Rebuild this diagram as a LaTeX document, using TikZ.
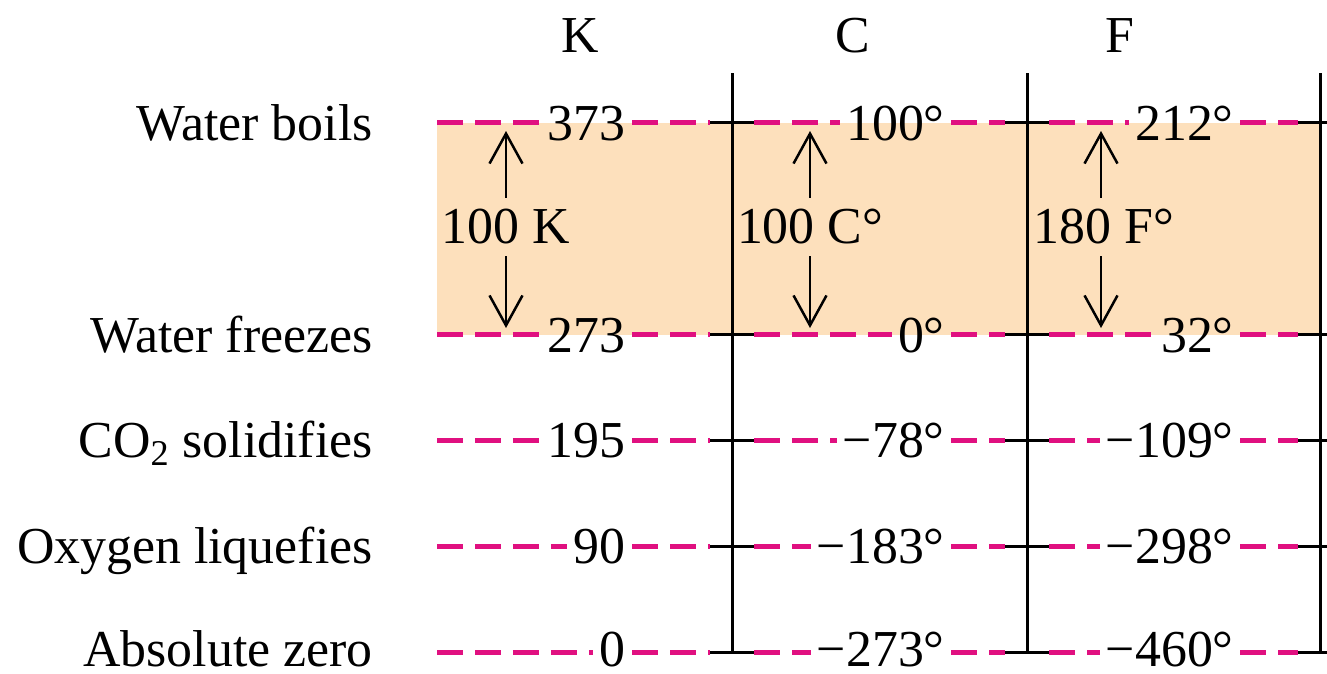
\documentclass[tikz,border=0pt]{standalone}
\usepackage{fontspec}
\setmainfont{Liberation Serif}
\usetikzlibrary{arrows.meta}
\definecolor{mag}{RGB}{224,16,128}
\definecolor{peach}{RGB}{253,224,188}
\begin{document}
\begin{tikzpicture}[x=0.02cm,y=-0.02cm,
  txt/.style={font=\fontsize{29.5}{33}\selectfont, inner sep=0pt},
  rowlab/.style={txt, anchor=base east},
  num/.style={txt, anchor=base east, inner xsep=0.12cm},
  head/.style={txt, anchor=base},
  span/.style={txt, inner ysep=0.23cm},
  magline/.style={draw=mag, line width=0.1cm, dash pattern=on 0.52cm off 0.24cm},
  blk/.style={draw=black, line width=0.06cm},
  arr/.style={draw=black, line width=0.05cm, -{Straight Barb[length=0.6cm,width=0.66cm]}}]
\useasboundingbox (0,0) rectangle (1327,673);
\fill[peach] (437,123) rectangle (1320,335);
% headers
\node[head] (hk) at (580,52) {K};
\node[head] (hc) at (853,52) {C};
\node[head] (hf) at (1120,52) {F};
% vertical scale lines
\coordinate (vk1) at (732,73); \coordinate (vk2) at (732,652);
\coordinate (vc1) at (1027,73); \coordinate (vc2) at (1027,652);
\coordinate (vf1) at (1320,73); \coordinate (vf2) at (1320,652);
\draw[blk] (vk1) -- (vk2);
\draw[blk] (vc1) -- (vc2);
\draw[blk] (vf1) -- (vf2);
% rows
\foreach \i/\y/\b/\rl/\kv/\cv/\fv in {
  1/122/140/{Water boils}/373/100°/212°,
  2/334/352/{Water freezes}/273/0°/32°,
  3/440/457/{CO\textsubscript{2} solidifies}/195/−78°/−109°,
  4/546/563/{Oxygen liquefies}/90/−183°/−298°,
  5/652/666/{Absolute zero}/0/−273°/−460°}{
  \node[rowlab] (r\i) at (373,\b) {\rl};
  \node[num] (k\i) at (632,\b) {\kv};
  \node[num] (c\i) at (951,\b) {\cv};
  \node[num] (f\i) at (1240,\b) {\fv};
  \coordinate (s\i) at (437,\y);
  \coordinate (ta\i) at (710,\y); \coordinate (tb\i) at (754,\y);
  \coordinate (ua\i) at (1005,\y); \coordinate (ub\i) at (1049,\y);
  \coordinate (va\i) at (1298,\y); \coordinate (vb\i) at (1327,\y);
  \draw[magline] (s\i) -- (s\i -| k\i.west);
  \draw[magline] (k\i.east |- s\i) -- (ta\i);
  \draw[blk] (ta\i) -- (tb\i);
  \draw[magline] (tb\i) -- (tb\i -| c\i.west);
  \draw[magline] (c\i.east |- s\i) -- (ua\i);
  \draw[blk] (ua\i) -- (ub\i);
  \draw[magline] (ub\i) -- (ub\i -| f\i.west);
  \draw[magline] (f\i.east |- s\i) -- (va\i);
  \draw[blk] (va\i) -- (vb\i);
}
% interval arrows
\node[span] (dk) at (506,227) {100 K};
\node[span] (dc) at (810,227) {100 C°};
\node[span] (df) at (1104,227) {180 F°};
\coordinate (dkt) at (506,131); \coordinate (dkb) at (506,328);
\coordinate (dct) at (810,131); \coordinate (dcb) at (810,328);
\coordinate (dft) at (1101,131); \coordinate (dfb) at (1101,328);
\draw[arr] (dkt |- dk.north) -- (dkt);
\draw[arr] (dkb |- dk.south) -- (dkb);
\draw[arr] (dct |- dc.north) -- (dct);
\draw[arr] (dcb |- dc.south) -- (dcb);
\draw[arr] (dft |- df.north) -- (dft);
\draw[arr] (dfb |- df.south) -- (dfb);
\end{tikzpicture}
\end{document}
